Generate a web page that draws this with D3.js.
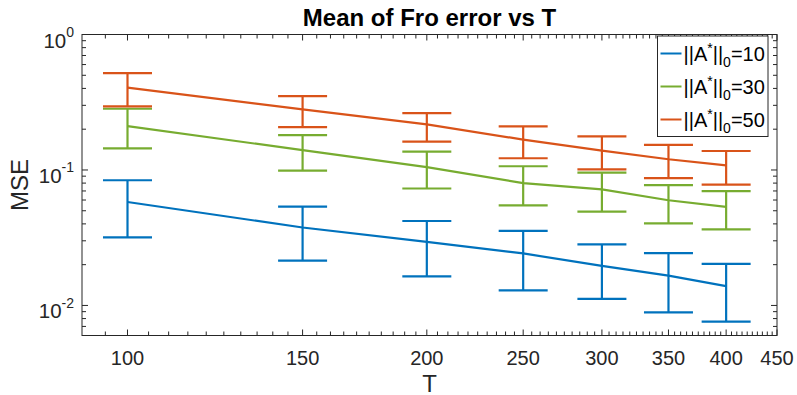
<!DOCTYPE html>
<html>
<head>
<meta charset="utf-8">
<script src="https://cdn.jsdelivr.net/npm/d3@7"></script>
<style>
  body { margin: 0; background: #fff; }
  text { font-family: "Liberation Sans", Arial, Helvetica, sans-serif; }
</style>
</head>
<body>
<svg id="chart" width="797" height="395"></svg>
<script>
// sample sizes
const T = [100, 150, 200, 250, 300, 350, 400];

// ||A*||_0 = 10
const mean10 = [0.058, 0.0376, 0.0295, 0.0242, 0.0196, 0.0166, 0.0139];
const low10  = [0.0318, 0.0214, 0.0164, 0.0129, 0.0112, 0.0089, 0.0076];
const up10   = [0.084, 0.0537, 0.042, 0.0355, 0.0282, 0.0243, 0.0203];

// ||A*||_0 = 30
const mean30 = [0.211, 0.140, 0.105, 0.080, 0.072, 0.0598, 0.0534];
const low30  = [0.1445, 0.0989, 0.073, 0.0547, 0.0493, 0.0403, 0.0364];
const up30   = [0.283, 0.181, 0.1366, 0.1065, 0.0957, 0.0772, 0.0697];

// ||A*||_0 = 50
const mean50 = [0.405, 0.280, 0.217, 0.1675, 0.139, 0.12, 0.108];
const low50  = [0.2946, 0.2075, 0.162, 0.122, 0.101, 0.087, 0.078];
const up50   = [0.519, 0.351, 0.263, 0.210, 0.177, 0.153, 0.138];

const seriesNames = ["10", "30", "50"];
const xTicks = [100, 150, 200, 250, 300, 350, 400, 450];
const yTicks = [0.01, 0.1, 1];
const yExps = ["-2", "-1", "0"];

const series = [
  { name: seriesNames[0], color: "#0072BD", mean: mean10, low: low10, up: up10 },
  { name: seriesNames[1], color: "#77AC30", mean: mean30, low: low30, up: up30 },
  { name: seriesNames[2], color: "#D95319", mean: mean50, low: low50, up: up50 }
];

const margin = { top: 34.5, right: 20, bottom: 59.5, left: 82 };
const width = 797 - margin.left - margin.right;
const height = 395 - margin.top - margin.bottom;
const axisColor = "#262626";

const svg = d3.select("#chart");
const g = svg.append("g").attr("transform", `translate(${margin.left},${margin.top})`);

const x = d3.scaleLog().domain([90, 450]).range([0, width]);
const y = d3.scaleLog().domain([0.006, 1]).range([height, 0]);

// minor ticks
const xMinor = d3.range(95, 450, 5).filter(v => !xTicks.includes(v));
const yMinor = [];
[0.001, 0.01, 0.1].forEach(d => { for (let k = 2; k <= 9; k++) { const v = k * d; if (v >= 0.006 && v < 1) yMinor.push(v); } });

const ticks = g.append("g").attr("stroke", axisColor).attr("stroke-width", 1);
xMinor.forEach(v => {
  ticks.append("line").attr("x1", x(v)).attr("x2", x(v)).attr("y1", height).attr("y2", height - 4);
  ticks.append("line").attr("x1", x(v)).attr("x2", x(v)).attr("y1", 0).attr("y2", 4);
});
xTicks.forEach(v => {
  ticks.append("line").attr("x1", x(v)).attr("x2", x(v)).attr("y1", height).attr("y2", height - 6);
  ticks.append("line").attr("x1", x(v)).attr("x2", x(v)).attr("y1", 0).attr("y2", 6);
});
yMinor.forEach(v => {
  ticks.append("line").attr("x1", 0).attr("x2", 4).attr("y1", y(v)).attr("y2", y(v));
  ticks.append("line").attr("x1", width).attr("x2", width - 4).attr("y1", y(v)).attr("y2", y(v));
});
yTicks.forEach(v => {
  ticks.append("line").attr("x1", 0).attr("x2", 6).attr("y1", y(v)).attr("y2", y(v));
  ticks.append("line").attr("x1", width).attr("x2", width - 6).attr("y1", y(v)).attr("y2", y(v));
});

// box
g.append("rect").attr("width", width).attr("height", height)
  .attr("fill", "none").attr("stroke", axisColor).attr("stroke-width", 1);

// x tick labels
g.append("g").selectAll("text").data(xTicks).join("text")
  .attr("x", d => x(d)).attr("y", height + 29.5)
  .attr("text-anchor", "middle").attr("font-size", 20).attr("fill", axisColor)
  .text(d => d);

// y tick labels 10^n
yTicks.forEach((v, i) => {
  const t = g.append("text").attr("x", -8).attr("y", y(v) + 13)
    .attr("text-anchor", "end").attr("fill", axisColor).attr("font-size", 20.5);
  t.append("tspan").text("10");
  t.append("tspan").attr("dy", -10.5).attr("font-size", 14).text(yExps[i]);
});

// axis labels
g.append("text").attr("x", width / 2).attr("y", height + 56)
  .attr("text-anchor", "middle").attr("font-size", 24).attr("fill", axisColor).text("T");
svg.append("text").attr("transform", `translate(28,${margin.top + height / 2}) rotate(-90)`)
  .attr("text-anchor", "middle").attr("font-size", 24).attr("fill", axisColor).text("MSE");

// title
svg.append("text").attr("x", margin.left + width / 2).attr("y", 26)
  .attr("text-anchor", "middle").attr("font-size", 24).attr("font-weight", "bold")
  .attr("fill", "#000").text("Mean of Fro error vs T");

// series
const line = d3.line().x(d => x(d[0])).y(d => y(d[1]));
const capHalf = 24.5;
series.forEach(s => {
  const sg = g.append("g").attr("stroke", s.color).attr("stroke-width", 2.2).attr("fill", "none");
  sg.append("path").attr("d", line(T.map((t, i) => [t, s.mean[i]])));
  T.forEach((t, i) => {
    const cx = x(t);
    sg.append("line").attr("x1", cx).attr("x2", cx).attr("y1", y(s.low[i])).attr("y2", y(s.up[i]));
    sg.append("line").attr("x1", cx - capHalf).attr("x2", cx + capHalf).attr("y1", y(s.low[i])).attr("y2", y(s.low[i]));
    sg.append("line").attr("x1", cx - capHalf).attr("x2", cx + capHalf).attr("y1", y(s.up[i])).attr("y2", y(s.up[i]));
  });
});

// legend
const lg = svg.append("g").attr("transform", "translate(657.5,36)");
lg.append("rect").attr("width", 110.5).attr("height", 100.5)
  .attr("fill", "#fff").attr("stroke", axisColor).attr("stroke-width", 1);
series.forEach((s, i) => {
  const cy = 17.5 + i * 33;
  lg.append("line").attr("x1", 3).attr("x2", 24).attr("y1", cy).attr("y2", cy)
    .attr("stroke", s.color).attr("stroke-width", 2);
  const t = lg.append("text").attr("x", 26).attr("y", cy + 7.5)
    .attr("font-size", 20).attr("fill", "#000");
  t.append("tspan").text("||A");
  t.append("tspan").attr("dy", -8).attr("font-size", 14).text("*");
  t.append("tspan").attr("dy", 8).text("||");
  t.append("tspan").attr("dy", 6).attr("font-size", 14).text("0");
  t.append("tspan").attr("dy", -6).text("=" + s.name);
});
</script>
</body>
</html>
